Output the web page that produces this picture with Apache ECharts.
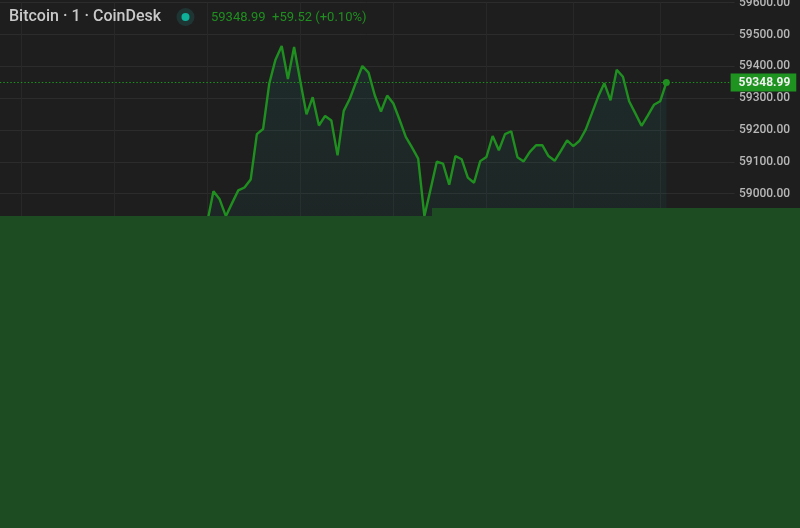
<!DOCTYPE html>
<html><head><meta charset="utf-8">
<style>html,body{margin:0;padding:0;background:#1e1e1e}#c{width:800px;height:528px}</style>
<script src="https://cdn.jsdelivr.net/npm/echarts@6/dist/echarts.min.js"></script>
</head><body><div id="c"></div>
<script>
const prices = [58910,59007,58982,58929,58970,59010,59019,59044,59187,59203,59346,59421,59464,59360,59461,59353,59249,59303,59214,59244,59230,59120,59260,59299,59351,59401,59380,59309,59258,59308,59283,59232,59178,59145,59110,58929,59014,59100,59094,59028,59118,59108,59050,59034,59102,59115,59181,59136,59187,59196,59114,59101,59131,59152,59152,59118,59103,59134,59167,59149,59166,59201,59252,59304,59347,59293,59389,59367,59290,59252,59213,59245,59279,59290,59348.99];
const firstIndex = 34;
const gridIndexes = [4,19,34,49,64,79,93,107];
const lastPrice = 59348.99;
const titleText = 'Bitcoin · 1 · CoinDesk';
const quoteText = '59348.99  +59.52 (+0.10%)';
const green = '#1f8f1f';

const chart = echarts.init(document.getElementById('c'), null, {renderer:'canvas'});
const seriesData = prices.map((v,i)=>[firstIndex+i, v]);
chart.setOption({
  backgroundColor:'#1e1e1e',
  animation:false,
  title:{text:titleText,left:9,top:9,padding:0,textStyle:{color:'#c9c9c9',fontFamily:'Roboto',fontSize:16,fontWeight:500}},
  grid:{outerBoundsMode:'none',left:-3.7,right:65.4,top:2.7,bottom:16.3},
  xAxis:{type:'value',min:0,max:119,
    axisLine:{show:false},axisLabel:{show:false},
    axisTick:{show:false,customValues:gridIndexes},
    splitLine:{show:true,lineStyle:{color:'#282828',width:1}}},
  yAxis:{type:'value',position:'right',min:58000,max:59600,interval:100,
    axisLine:{show:false},axisTick:{show:false},
    axisLabel:{color:'#b8b8b8',fontFamily:'Roboto',fontSize:12,fontWeight:500,margin:4.4,padding:[2,0,0,0],
      formatter:v=>v.toFixed(2)},
    splitLine:{show:true,lineStyle:{color:'#2c2c2c',width:1}}},
  series:[{
    type:'line',data:seriesData,showSymbol:false,smooth:false,
    lineStyle:{color:green,width:2.4},
    itemStyle:{color:green},
    areaStyle:{origin:'start',color:{type:'linear',x:0,y:0,x2:0,y2:1,colorStops:[
      {offset:0,color:'rgba(20,160,150,0.14)'},{offset:0.5,color:'rgba(20,160,150,0.07)'},{offset:1,color:'rgba(20,160,150,0)'}]}},
    markLine:{silent:true,symbol:'none',animation:false,
      lineStyle:{color:'#1f8f1f',type:[1.5,2],width:1,opacity:1},
      label:{show:true,position:'end',distance:-4,formatter:p=>p.value.toFixed(2),
        color:'#f0f0f0',fontFamily:'Roboto',fontWeight:'bold',fontSize:12,
        backgroundColor:'#1f9320',padding:[3,6,3,8]},
      data:[{yAxis:lastPrice}]},
    markPoint:{silent:true,symbol:'circle',symbolSize:7,animation:false,
      itemStyle:{color:green},label:{show:false},
      data:[{coord:seriesData[seriesData.length-1]}]}
  }],
  graphic:[
    {type:'circle',z:100,shape:{cx:185.5,cy:17,r:9},style:{fill:'#1f3534'}},
    {type:'circle',z:101,shape:{cx:185.5,cy:17,r:4},style:{fill:'#0fb09a'}},
    {type:'text',z:100,left:211,top:11,style:{text:quoteText,fill:green,font:'13px Roboto'}},
    {type:'rect',z:200,shape:{x:0,y:216,width:800,height:312},style:{fill:'#1d4b22'}},
    {type:'rect',z:200,shape:{x:432,y:208,width:368,height:10},style:{fill:'#1d4b22'}}
  ]
});
</script></body></html>
